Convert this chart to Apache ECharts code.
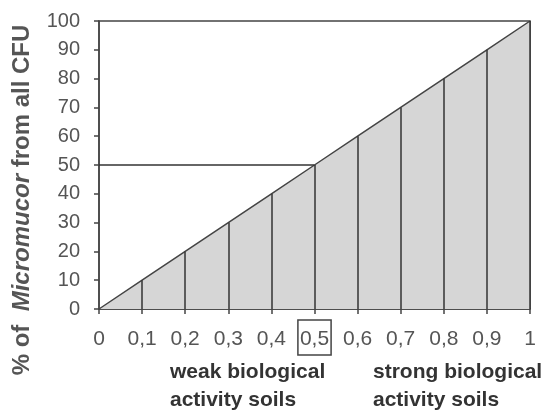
<!DOCTYPE html>
<html><head><meta charset="utf-8">
<script src="https://cdn.jsdelivr.net/npm/echarts@6/dist/echarts.min.js"></script>
<style>html,body{margin:0;padding:0;background:#fff}#c{width:545px;height:410px}</style>
</head><body><div id="c"></div>
<script>
var xValues = [0, 0.1, 0.2, 0.3, 0.4, 0.5, 0.6, 0.7, 0.8, 0.9, 1];
var yValues = [0, 10, 20, 30, 40, 50, 60, 70, 80, 90, 100];
var refX = 0.5, refY = 50;
var weakText = ['weak biological', 'activity soils'];
var strongText = ['strong biological', 'activity soils'];

var chart = echarts.init(document.getElementById('c'));
var lineData = xValues.map(function (x, i) { return [x, yValues[i]]; });
var drops = xValues.slice(1).map(function (x, i) {
  return [{ coord: [x, 0] }, { coord: [x, yValues[i + 1]] }];
});
drops.push([{ coord: [0, refY] }, { coord: [refX, refY] }]);

function fmtX(v) {
  var s = (Math.round(v * 10) / 10).toString().replace('.', ',');
  return Math.abs(v - refX) < 1e-6 ? '{b|' + s + '}' : '{n|' + s + '}';
}
var F = 'Liberation Sans, Arial, sans-serif';
chart.setOption({
  animation: false,
  grid: { left: 99, right: 15, top: 21, bottom: 101, show: true, borderColor: '#444', borderWidth: 1.5, backgroundColor: 'transparent' },
  xAxis: {
    type: 'value', min: 0, max: 1, interval: 0.1,
    axisLine: { show: true, lineStyle: { color: '#444', width: 1.5 } },
    axisTick: { show: true, length: 5, lineStyle: { color: '#444', width: 1.5 } },
    splitLine: { show: false },
    axisLabel: {
      margin: 18, formatter: fmtX, fontFamily: F, fontSize: 21, color: '#555',
      rich: {
        n: { fontFamily: F, fontSize: 21, lineHeight: 21, color: '#555', padding: [9, 2, 5, 2], borderColor: 'transparent', borderWidth: 1.5 },
        b: { fontFamily: F, fontSize: 21, lineHeight: 21, color: '#555', padding: [9, 2, 5, 2], borderColor: '#444', borderWidth: 1.5 }
      }
    }
  },
  yAxis: {
    type: 'value', min: 0, max: 100, interval: 10,
    axisLine: { show: true, lineStyle: { color: '#444', width: 1.5 } },
    axisTick: { show: true, length: 5, lineStyle: { color: '#444', width: 1.5 } },
    splitLine: { show: false },
    axisLabel: { margin: 19, fontFamily: F, fontSize: 20, color: '#555' }
  },
  series: [{
    type: 'line', data: lineData, symbol: 'none',
    lineStyle: { color: '#444', width: 1.5 },
    areaStyle: { color: '#d6d6d6', opacity: 1 },
    markLine: {
      silent: true, symbol: 'none', label: { show: false },
      lineStyle: { color: '#333', width: 1.5, type: 'solid' },
      data: drops
    }
  }],
  graphic: [
    { type: 'text', x: 22, y: 200, rotation: Math.PI / 2,
      style: { text: '{a|% of  }{i|Micromucor}{a| from all CFU}', align: 'center', verticalAlign: 'middle',
        rich: {
          a: { fontFamily: F, fontSize: 24, fontWeight: 'bold', fill: '#555' },
          i: { fontFamily: F, fontSize: 24, fontWeight: 'bold', fontStyle: 'italic', fill: '#555' }
        } } },
    { type: 'text', left: 170, top: 358, style: { text: weakText.join('\n'), fontFamily: F, fontSize: 21, fontWeight: 'bold', fill: '#333', lineHeight: 28 } },
    { type: 'text', left: 373, top: 358, style: { text: strongText.join('\n'), fontFamily: F, fontSize: 21, fontWeight: 'bold', fill: '#333', lineHeight: 28 } }
  ]
});
</script></body></html>
